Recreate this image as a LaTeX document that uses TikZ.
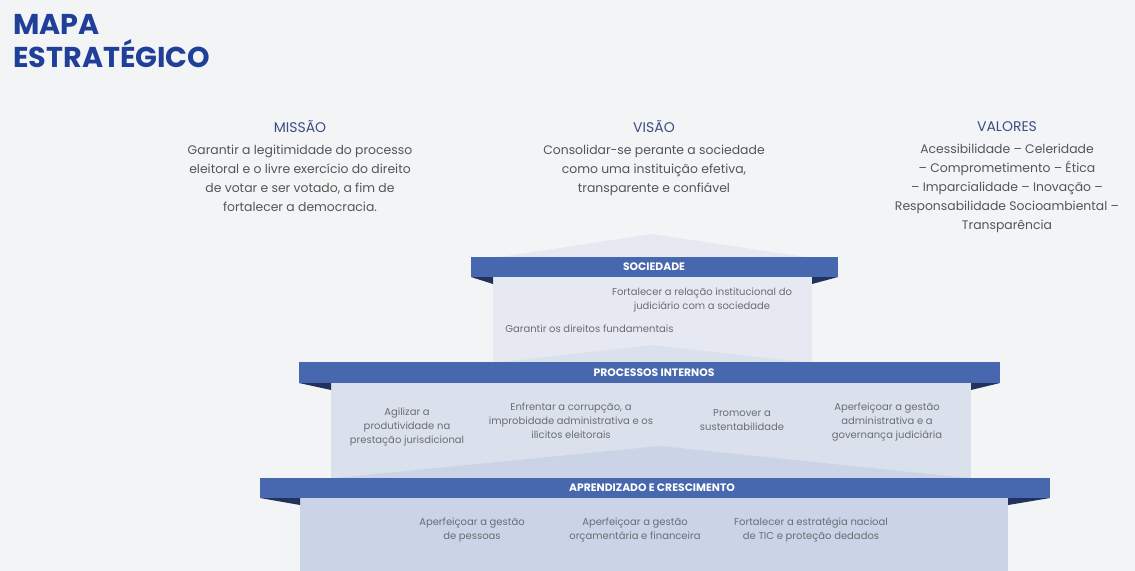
\documentclass[tikz,border=0pt]{standalone}
\usepackage{fontspec}
\setmainfont{Poppins}
\usetikzlibrary{positioning}

\definecolor{paper}{HTML}{F3F4F6}
\definecolor{titleblue}{HTML}{1F3F98}
\definecolor{headblue}{HTML}{3C4E80}
\definecolor{textgray}{HTML}{555555}
\definecolor{goalgray}{HTML}{6A6D74}
\definecolor{bandblue}{HTML}{4767AE}
\definecolor{folddark}{HTML}{22325C}
\definecolor{socfill}{HTML}{E6E9F1}
\definecolor{procfill}{HTML}{DBE1EC}
\definecolor{aprfill}{HTML}{CBD4E6}

\tikzset{
  titulo/.style={text=titleblue,align=left,inner sep=0pt,
    font=\bfseries\fontsize{21.5}{25}\selectfont},
  cabeca/.style={text=headblue,inner sep=0pt,font=\fontsize{10.5}{12}\selectfont},
  corpo/.style={text=textgray,align=center,inner sep=0pt,
    font=\fontsize{9.3}{14.3}\selectfont},
  band/.style={fill=bandblue},
  fold/.style={fill=folddark},
  rotulo/.style={text=white,inner sep=0pt,font=\bfseries\fontsize{8.1}{9}\selectfont},
  objetivo/.style={text=goalgray,align=center,inner sep=0pt,
    font=\fontsize{7.5}{10.4}\selectfont},
}

\begin{document}
\begin{tikzpicture}[x=0.75pt,y=-0.75pt]
\useasboundingbox (0,0) rectangle (1135,571);
\fill[paper] (0,0) rectangle (1135,571);

% title
\node[titulo,anchor=north west] (mapa) at (13,14) {MAPA\\ESTRATÉGICO};

% missao, visao, valores
\node[cabeca] (missao) at (300,127) {MISSÃO};
\node[corpo,below=8.5pt of missao] (missaotxt) {Garantir a legitimidade do processo\\
  eleitoral e o livre exercício do direito\\de votar e ser votado, a fim de\\
  fortalecer a democracia.};
\node[cabeca] (visao) at (654,127) {VISÃO};
\node[corpo,below=8.5pt of visao] (visaotxt) {Consolidar-se perante a sociedade\\
  como uma instituição efetiva,\\transparente e confiável};
\node[cabeca] (valores) at (1007,127) {VALORES};
\node[corpo,below=8.5pt of valores] (valorestxt) {Acessibilidade -- Celeridade\\
  -- Comprometimento -- Ética\\-- Imparcialidade -- Inovação --\\
  Responsabilidade Socioambiental --\\Transparência};

% roof
\fill[socfill] (500,257) -- (652,234) -- (805,257) -- cycle;

% sociedade
\fill[socfill] (493,277) rectangle (812,362);
\fill[procfill] (503,362) -- (652,345) -- (802,362) -- cycle;
\fill[fold] (471,277) -- (493,277) -- (493,284) -- cycle;
\fill[fold] (838,277) -- (812,277) -- (812,284) -- cycle;
\fill[band] (471,257) rectangle (838,277);
\node[rotulo] (soc) at (654,267) {SOCIEDADE};
\node[objetivo] (soc1) at (702,300) {Fortalecer a relação institucional do\\
  judiciário com a sociedade};
\node[objetivo,anchor=west] (soc2) at (505,329) {Garantir os direitos fundamentais};

% processos internos
\fill[procfill] (331,383) rectangle (971,478);
\fill[aprfill] (335,478) -- (660,446) -- (968,478) -- cycle;
\fill[fold] (299,383) -- (331,383) -- (331,390) -- cycle;
\fill[fold] (1000,383) -- (971,383) -- (971,390) -- cycle;
\fill[band] (299,362) rectangle (1000,383);
\node[rotulo] (proc) at (654,373) {PROCESSOS INTERNOS};
\node[objetivo] (proc1) at (407,427) {Agilizar a\\produtividade na\\prestação jurisdicional};
\node[objetivo] (proc2) at (571,421) {Enfrentar a corrupção, a\\
  improbidade administrativa e os\\ilícitos eleitorais};
\node[objetivo] (proc3) at (742,420) {Promover a\\sustentabilidade};
\node[objetivo] (proc4) at (887,422) {Aperfeiçoar a gestão\\administrativa e a\\
  governança judiciária};

% aprendizado e crescimento
\fill[aprfill] (300,498) rectangle (1008,571);
\fill[fold] (260,498) -- (300,498) -- (300,505) -- cycle;
\fill[fold] (1050,498) -- (1008,498) -- (1008,505) -- cycle;
\fill[band] (260,478) rectangle (1050,498);
\node[rotulo] (apr) at (652,488) {APRENDIZADO E CRESCIMENTO};
\node[objetivo] (apr1) at (472,530) {Aperfeiçoar a gestão\\de pessoas};
\node[objetivo] (apr2) at (635,530) {Aperfeiçoar a gestão\\orçamentária e financeira};
\node[objetivo] (apr3) at (811,530) {Fortalecer a estratégia nacioal\\
  de TIC e proteção dedados};
\end{tikzpicture}
\end{document}
